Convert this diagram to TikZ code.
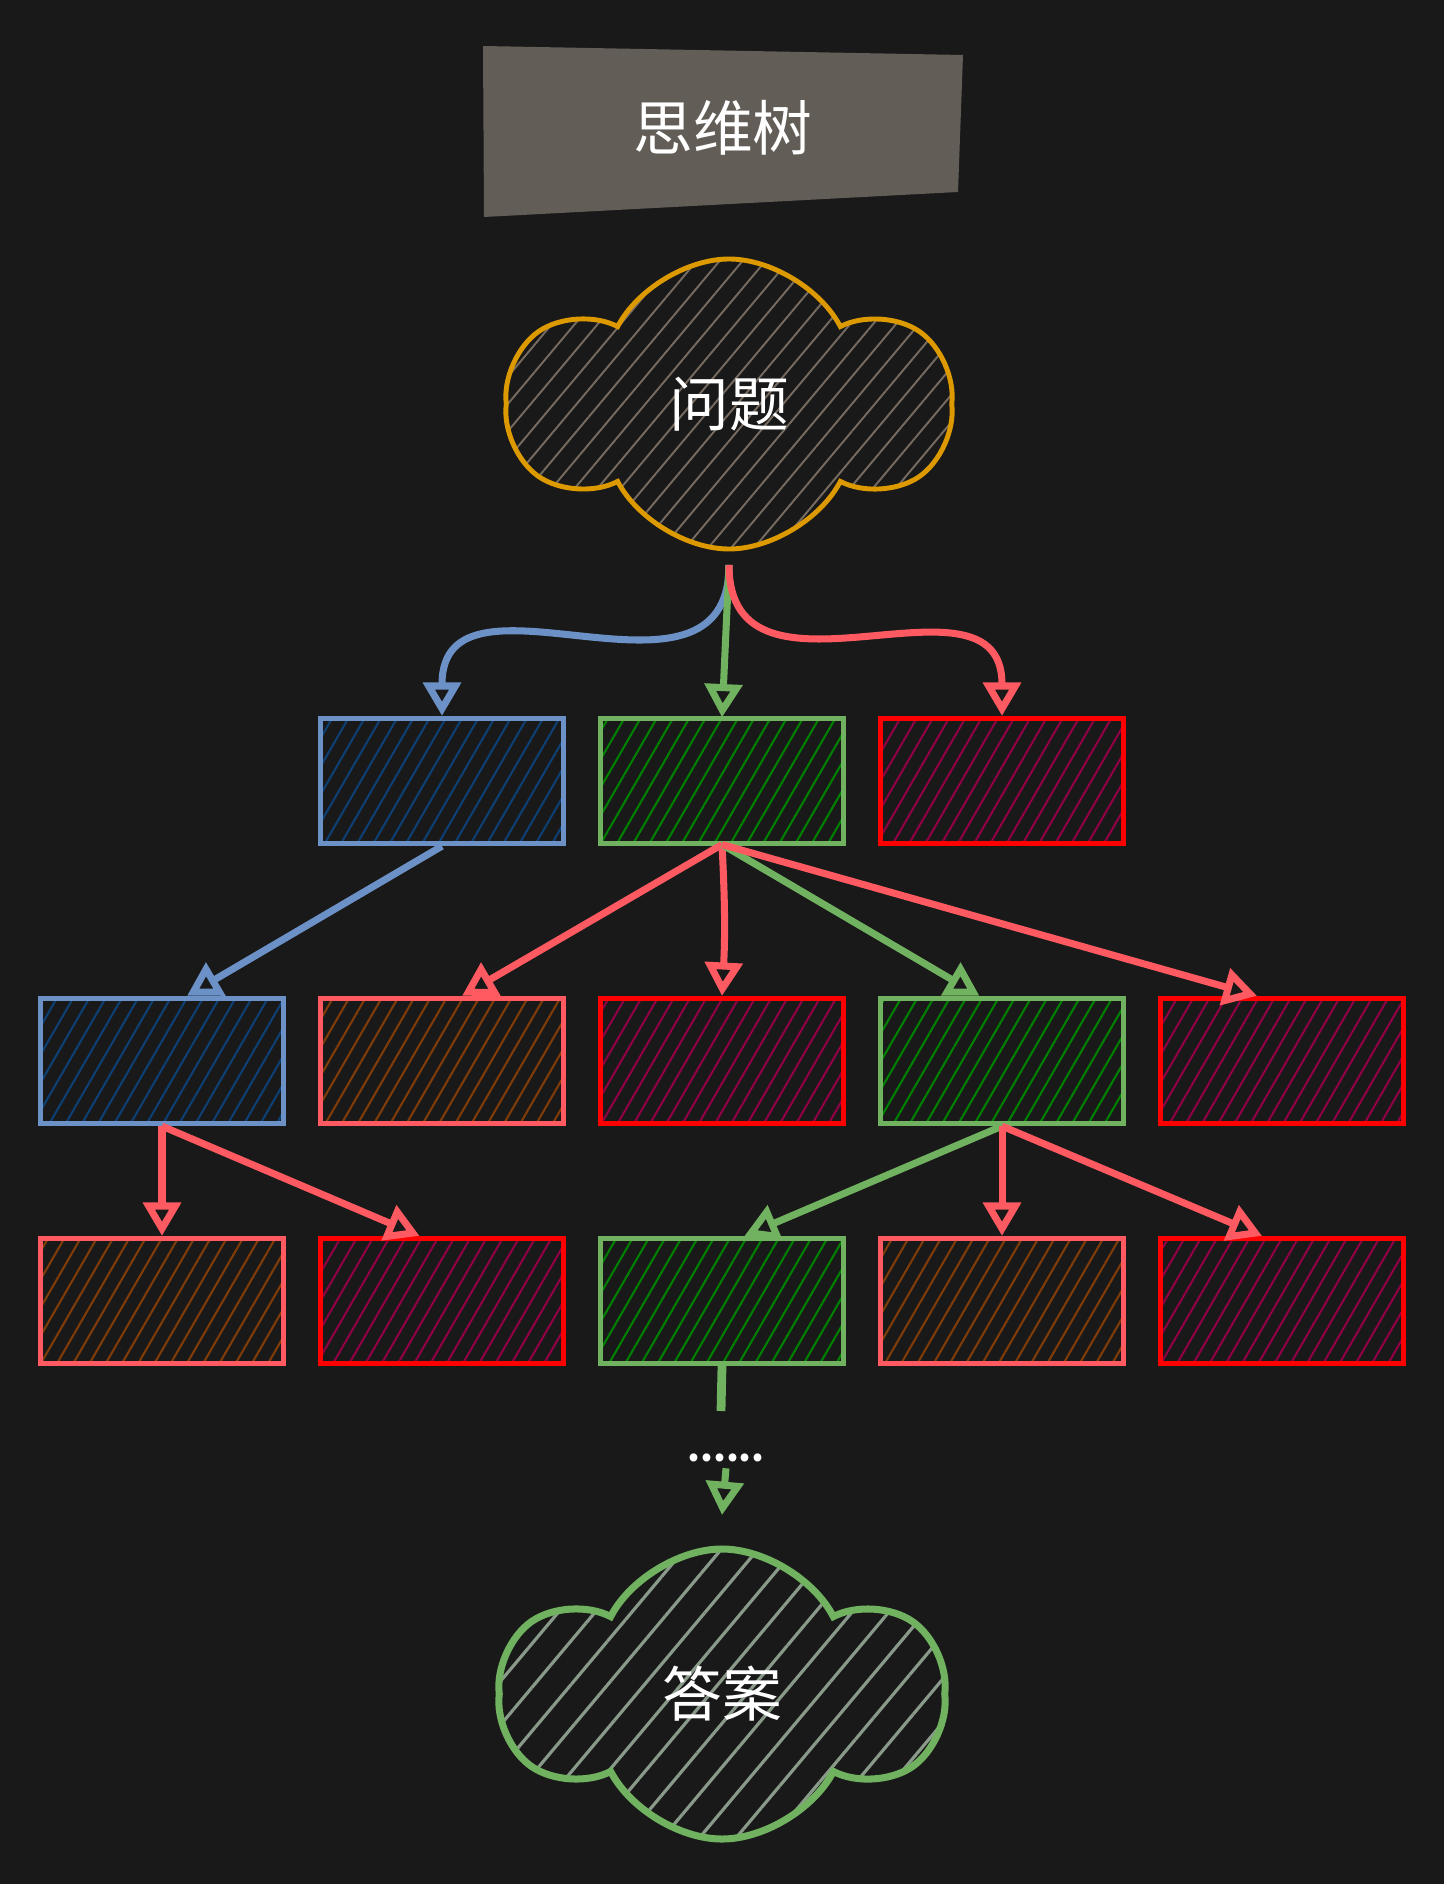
\documentclass[tikz,border=0pt]{standalone}
\usepackage{fontspec}
\newfontfamily\cjk{Noto Sans CJK SC}
\usetikzlibrary{arrows.meta,positioning,shapes.symbols,patterns.meta}

\definecolor{bgcol}{HTML}{191919}
\definecolor{titlebg}{HTML}{625D57}
\definecolor{bluestroke}{HTML}{6C91C6}
\definecolor{bluehatch}{HTML}{0D3F73}
\definecolor{greenstroke}{HTML}{70B25F}
\definecolor{greenhatch}{HTML}{008000}
\definecolor{redstroke}{HTML}{FF0000}
\definecolor{redhatch}{HTML}{8F0045}
\definecolor{lightred}{HTML}{FF5A61}
\definecolor{brownhatch}{HTML}{7F3B08}
\definecolor{orangestroke}{HTML}{DD9900}
\definecolor{qhatch}{HTML}{766B61}
\definecolor{ahatch}{HTML}{8A9A8A}

\begin{document}
\begin{tikzpicture}[>={Triangle[open,length=19pt,width=21pt]},node distance=5.6cm,
  hatch/.style={pattern={Lines[angle=60,distance=8pt,line width=1.2pt]},pattern color=#1},
  box/.style={rectangle,minimum width=4.85cm,minimum height=2.5cm,inner sep=0pt,line width=3pt},
  bluebox/.style={box,draw=bluestroke,hatch=bluehatch},
  greenbox/.style={box,draw=greenstroke,hatch=greenhatch},
  redbox/.style={box,draw=redstroke,hatch=redhatch},
  brownbox/.style={box,draw=lightred,hatch=brownhatch},
  bigcloud/.style={cloud,cloud puffs=6,cloud puff arc=125,aspect=1.5,
    minimum width=8.8cm,minimum height=5.8cm,inner sep=0pt},
  txt/.style={text=white,font=\cjk\fontsize{34}{40}\selectfont},
  arr/.style={->,line width=4pt}]

\fill[bgcol] (0,0) rectangle (28.88,-37.68);

% title
\fill[titlebg] (9.66,-0.92) -- (19.26,-1.10) -- (19.16,-3.84) -- (9.68,-4.34) -- cycle;
\node[txt] (title) at (14.46,-2.56) {思维树};

% question
\node[bigcloud,txt,draw=orangestroke,line width=2.8pt,
  pattern={Lines[angle=50,distance=10pt,line width=1.1pt]},pattern color=qhatch] (q) at (14.58,-8.08) {问题};

% first row
\node[greenbox] (b12) at (14.44,-15.62) {};
\node[bluebox]  (b11) [left of=b12]  {};
\node[redbox]   (b13) [right of=b12] {};

% second row
\node[redbox]   (b23) [below of=b12] {};
\node[brownbox] (b22) [left of=b23]  {};
\node[bluebox]  (b21) [left of=b22]  {};
\node[greenbox] (b24) [right of=b23] {};
\node[redbox]   (b25) [right of=b24] {};

% third row
\node[brownbox] (b31) [below of=b21,node distance=4.8cm] {};
\node[redbox]   (b32) [right of=b31] {};
\node[greenbox] (b33) [right of=b32] {};
\node[brownbox] (b34) [right of=b33] {};
\node[redbox]   (b35) [right of=b34] {};

% answer
\node[bigcloud,txt,draw=greenstroke,line width=4pt,
  pattern={Lines[angle=50,distance=16pt,line width=1.8pt]},pattern color=ahatch] (ans) at (14.44,-33.88) {答案};

\draw[arr,bluestroke]  ([yshift=-0.3cm]q.south) to[out=-90,in=90,looseness=1.3] (b11.north);
\draw[arr,greenstroke] ([yshift=-0.3cm]q.south) -- (b12.north);
\draw[arr,lightred]    ([yshift=-0.3cm]q.south) to[out=-90,in=90,looseness=1.3] (b13.north);

\draw[arr,bluestroke]  (b11.south) -- ([xshift=0.5cm]b21.north);
\draw[arr,lightred]    (b12.south) -- ([xshift=0.4cm]b22.north);
\draw[arr,lightred]    (b12.south) to[bend left=3] (b23.north);
\draw[arr,greenstroke] (b12.south) -- ([xshift=-0.45cm]b24.north);
\draw[arr,lightred]    (b12.south) -- ([xshift=-0.5cm]b25.north);

\draw[arr,lightred]    (b21.south) -- (b31.north);
\draw[arr,lightred]    (b21.south) -- ([xshift=-0.45cm]b32.north);
\draw[arr,greenstroke] (b24.south) -- ([xshift=0.45cm]b33.north);
\draw[arr,lightred]    (b24.south) -- (b34.north);
\draw[arr,lightred]    (b24.south) -- ([xshift=-0.4cm]b35.north);

% down to the answer
\coordinate (stub) at (14.42,-28.22);
\draw[line width=5pt,greenstroke] (b33.south) -- (stub);
\node[text=white,font=\cjk\fontsize{21}{21}\selectfont\bfseries] (dots) at (14.52,-29.16) {......};
\coordinate (tip) at (14.44,-30.3);
\draw[arr,greenstroke] (dots.south) -- (tip);

\end{tikzpicture}
\end{document}
